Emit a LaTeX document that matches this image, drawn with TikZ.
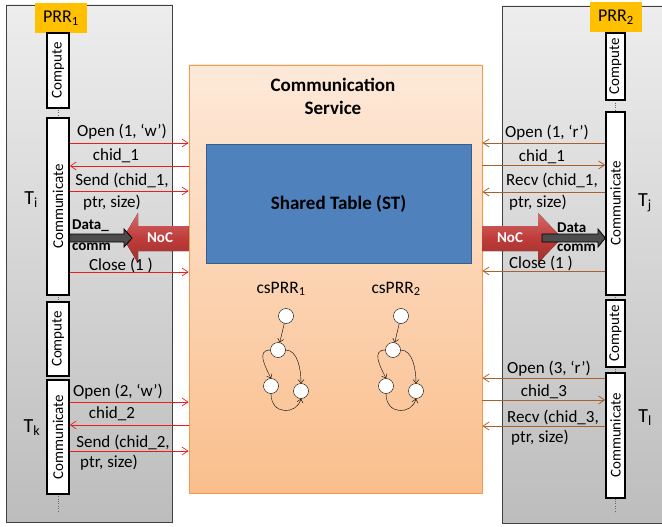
\documentclass[tikz,border=0pt]{standalone}
\usepackage{fontspec}
\setmainfont{Carlito}
\usetikzlibrary{arrows.meta,positioning,calc}

\definecolor{prrorange}{RGB}{255,192,0}
\definecolor{msgred}{RGB}{235,30,30}
\definecolor{msgbrown}{RGB}{170,95,45}
\definecolor{stblue}{RGB}{79,129,189}
\definecolor{stborder}{RGB}{56,93,138}
\definecolor{svcborder}{RGB}{247,150,70}
\definecolor{svctop}{RGB}{253,233,217}
\definecolor{svcbot}{RGB}{250,190,140}
\definecolor{nocred}{RGB}{192,60,58}

\begin{document}
\begin{tikzpicture}[x=1pt, y=-1pt,
    panel/.style={top color=black!7, bottom color=black!26},
    prr/.style={fill=prrorange, minimum width=52pt, minimum height=30pt, inner sep=0, font=\fontsize{18}{18}\selectfont},
    colbox/.style={draw, line width=1.4pt, fill=white, minimum width=22pt, inner sep=0, font=\fontsize{15}{15}\selectfont},
    lbl/.style={inner sep=0, font=\fontsize{17}{17}\selectfont},
    blbl/.style={inner sep=0, font=\fontsize{15}{16}\selectfont\bfseries},
    tlbl/.style={inner sep=0, font=\fontsize{20}{20}\selectfont},
    msgl/.style={msgred, line width=0.7pt, -{Straight Barb[length=6pt,width=8pt]}},
    msgr/.style={msgbrown, line width=0.8pt, -{Straight Barb[length=6pt,width=8pt]}},
    noc/.style={top color=nocred!75!white, bottom color=nocred!80!black, middle color=nocred},
    datarrow/.style={fill=black!70, draw=black, line width=0.8pt},
    state/.style={circle, draw, fill=white, minimum size=15pt, inner sep=0},
    garrow/.style={-{Straight Barb[length=3.5pt,width=6pt]}}
  ]
  \useasboundingbox (0,0) rectangle (662,527);

  % processor regions
  \shade[panel] (6,5) rectangle (172,522);
  \draw[black!75, line width=0.8pt] (6,5) rectangle (172,522);
  \shade[panel] (502,6) rectangle (662,523);
  \draw[black!75, line width=0.8pt] (662,6) -- (502,6) -- (502,523) -- (662,523);

  \draw[dotted, black!60] (58,33) -- (58,513);
  \draw[dotted, black!60] (615.5,33) -- (615.5,513);

  \node[prr] (prr1) at (61,18) {PRR\textsubscript{1}};
  \node[prr] (prr2) at (616,17.5) {PRR\textsubscript{2}};

  \node[colbox, minimum height=75pt] (compi) at (58,70.5) {\rotatebox{90}{Compute}};
  \node[colbox, minimum height=177pt] (commi) at (58,206.5) {\rotatebox{90}{Communicate}};
  \node[colbox, minimum height=74pt] (compk) at (58,339) {\rotatebox{90}{Compute}};
  \node[colbox, minimum height=114pt] (commk) at (58,437) {\rotatebox{90}{Communicate}};

  \node[colbox, minimum width=19pt, minimum height=67pt] (compj) at (615.5,66.5) {\rotatebox{90}{Compute}};
  \node[colbox, minimum width=19pt, minimum height=183pt] (commj) at (615.5,203.5) {\rotatebox{90}{Communicate}};
  \node[colbox, minimum width=19pt, minimum height=67pt] (compl) at (615.5,333.5) {\rotatebox{90}{Compute}};
  \node[colbox, minimum width=19pt, minimum height=125pt] (comml) at (615.5,435.5) {\rotatebox{90}{Communicate}};

  \node[tlbl] (ti) at (31,200) {T\textsubscript{i}};
  \node[tlbl] (tk) at (32,428) {T\textsubscript{k}};
  \node[tlbl] (tj) at (645,203) {T\textsubscript{j}};
  \node[tlbl] (tl) at (645,418) {T\textsubscript{l}};

  % communication service
  \node[draw=svcborder, line width=0.8pt, top color=svctop, bottom color=svcbot,
        minimum width=293pt, minimum height=428pt] (cs) at (335.5,279) {};
  \node[align=center, font=\fontsize{19}{23}\selectfont\bfseries] (cstitle) at (333,96.5) {Communication\\Service};
  \node[fill=stblue, draw=stborder, line width=0.8pt, minimum width=265pt, minimum height=119pt,
        font=\fontsize{19}{19}\selectfont\bfseries] (st) at (338.5,203.5) {Shared Table (ST)};

  % NoC
  \fill[noc] (123,238) -- (138,213) -- (138,226) -- (cs.west |- 0,226) -- (cs.west |- 0,251)
    -- (138,251) -- (138,263) -- cycle;
  \fill[noc] (562,238) -- (538,213) -- (538,226) -- (cs.east |- 0,226) -- (cs.east |- 0,251)
    -- (538,251) -- (538,263) -- cycle;
  \node[blbl, white] (nocl) at (160,238) {NoC};
  \node[blbl, white] (nocr) at (510,238) {NoC};

  \filldraw[datarrow] (commi.east |- 0,234) -- (124,234) -- (124,229) -- (132,238) -- (124,247)
    -- (124,242) -- (commi.east |- 0,242) -- cycle;
  \filldraw[datarrow] (542,234) -- (598,234) -- (598,229) -- (commj.west |- 0,238) -- (598,247)
    -- (598,242) -- (542,242) -- cycle;
  \node[blbl, anchor=west] (datai) at (72,226) {Data\_};
  \node[blbl, anchor=west] (commlbli) at (72,247) {comm};
  \node[blbl, anchor=west] (dataj) at (557,228) {Data};
  \node[blbl, anchor=west] (commlblj) at (557,248) {comm};

  % messages PRR1
  \draw[msgl] (commi.east |- 0,143) -- (cs.west |- 0,143);
  \draw[msgl] (cs.west |- 0,166) -- (commi.east |- 0,166);
  \draw[msgl] (commi.east |- 0,191) -- (cs.west |- 0,191);
  \draw[msgl] (commi.east |- 0,272) -- (cs.west |- 0,272);
  \node[lbl] (openi) at (122,132) {Open (1, ‘w’)};
  \node[lbl] (chidi) at (116,156) {chid\_1};
  \node[lbl] (sendi) at (122,180) {Send (chid\_1,};
  \node[lbl] (ptri) at (112,203) {ptr, size)};
  \node[lbl] (closei) at (121,265) {Close (1 )};

  \draw[msgl] (commk.east |- 0,402) -- (cs.west |- 0,402);
  \draw[msgl] (cs.west |- 0,425) -- (commk.east |- 0,425);
  \draw[msgl] (commk.east |- 0,451) -- (cs.west |- 0,451);
  \node[lbl] (openk) at (118,392) {Open (2, ‘w’)};
  \node[lbl] (chidk) at (112,414) {chid\_2};
  \node[lbl] (sendk) at (123,442) {Send (chid\_2,};
  \node[lbl] (ptrk) at (109,463) {ptr, size)};

  % messages PRR2
  \draw[msgr] (commj.west |- 0,143) -- (cs.east |- 0,143);
  \draw[msgr] (cs.east |- 0,165) -- (commj.west |- 0,165);
  \draw[msgr] (commj.west |- 0,192) -- (cs.east |- 0,192);
  \draw[msgr] (commj.west |- 0,271) -- (cs.east |- 0,271);
  \node[lbl] (openj) at (547,133) {Open (1, ‘r’)};
  \node[lbl] (chidj) at (542,157) {chid\_1};
  \node[lbl] (recvj) at (552,180) {Recv (chid\_1,};
  \node[lbl] (ptrj) at (538,203) {ptr, size)};
  \node[lbl] (closej) at (541,263) {Close (1 )};

  \draw[msgr] (comml.west |- 0,378) -- (cs.east |- 0,378);
  \draw[msgr] (cs.east |- 0,400) -- (comml.west |- 0,400);
  \draw[msgr] (comml.west |- 0,426) -- (cs.east |- 0,426);
  \node[lbl] (openl) at (549,369) {Open (3, ‘r’)};
  \node[lbl] (chidl) at (544,392) {chid\_3};
  \node[lbl] (recvl) at (553,417) {Recv (chid\_3,};
  \node[lbl] (ptrl) at (540,438) {ptr, size)};

  % task graphs
  \foreach \g/\dx in {1/0,2/115} {
    \begin{scope}[xshift=\dx]
      \node[font=\fontsize{17.5}{17.5}\selectfont, inner sep=0] (cs\g) at (281,289) {csPRR\textsubscript{\g}};
      \node[state] (g\g a) at (286,316) {};
      \node[state] (g\g b) at (278,350) {};
      \node[state] (g\g c) at (271,386) {};
      \node[state] (g\g d) at (301,391) {};
      \draw[garrow] (g\g a) -- (g\g b);
      \draw[garrow] (g\g b.west) .. controls +(-14,0) and +(-6,-12) .. (g\g c.north);
      \draw[garrow] (g\g b.east) .. controls +(12,0) and +(0,-14) .. (g\g d.north);
      \draw[garrow] (g\g c.south) .. controls +(0,22) and +(-4,16) .. (g\g d.south);
    \end{scope}
  }
\end{tikzpicture}
\end{document}
